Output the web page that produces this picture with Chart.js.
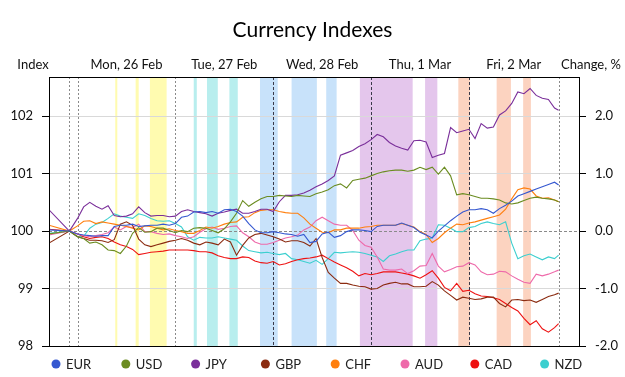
<!DOCTYPE html>
<html><head><meta charset="utf-8">
<script src="https://cdn.jsdelivr.net/npm/chart.js@4.4.1/dist/chart.umd.min.js"></script>
<style>html,body{margin:0;padding:0;background:#fff;}</style>
</head><body>
<canvas id="c" width="625" height="377"></canvas>
<script>
// ---- data (hours from Mon 26 Feb 00:00) ----
const hours = [-7, -2, 0, 1.5, 3, 4.5, 6, 7.5, 9, 10.5, 12, 13.5, 15, 16.5, 18, 19.5, 21, 22.5, 24, 25.5, 27, 28.5, 30, 31.5, 33, 34.5, 36, 37.5, 39, 40.5, 42, 43.5, 45, 46.5, 48, 49.5, 51, 52.5, 54, 55.5, 57, 58.5, 60, 61.5, 63, 64.5, 66, 67.5, 69, 70.5, 72, 73.5, 75, 76.5, 78, 79.5, 81, 82.5, 84, 85.5, 87, 88.5, 90, 91.5, 93, 94.5, 96, 97.5, 99, 100.5, 102, 103.5, 105, 106.5, 108, 109.5, 111, 112.5, 114, 115.5, 117, 118];
const EUR = [100.02, 100, 99.95, 99.93, 99.92, 99.91, 99.92, 99.92, 100.08, 100.10, 100.10, 100.12, 100.08, 100.09, 100.10, 100.10, 100.12, 100.10, 100.13, 100.24, 100.26, 100.33, 100.34, 100.32, 100.34, 100.31, 100.37, 100.38, 100.34, 100.26, 100.13, 100.02, 99.97, 99.97, 99.99, 99.97, 99.95, 99.94, 99.91, 99.94, 99.80, 99.82, 99.95, 99.98, 99.89, 99.92, 99.99, 100.02, 100.02, 100.01, 99.99, 100.08, 100.10, 100.10, 100.10, 100.14, 100.10, 100.06, 99.98, 99.93, 99.88, 100.00, 100.09, 100.18, 100.26, 100.33, 100.37, 100.37, 100.39, 100.37, 100.31, 100.39, 100.45, 100.52, 100.61, 100.65, 100.69, 100.73, 100.77, 100.81, 100.85, 100.80];
const USD = [99.95, 100, 99.90, 99.87, 99.79, 99.81, 99.76, 99.67, 99.66, 99.61, 99.74, 99.96, 100.06, 99.98, 99.99, 100.05, 100.05, 100.01, 99.97, 100.01, 99.99, 100.05, 100.06, 100.05, 100.01, 99.97, 100.04, 100.16, 100.31, 100.53, 100.43, 100.50, 100.56, 100.60, 100.60, 100.62, 100.61, 100.60, 100.62, 100.61, 100.60, 100.65, 100.68, 100.72, 100.79, 100.82, 100.75, 100.88, 100.90, 100.92, 100.96, 101.00, 101.03, 101.05, 101.06, 101.06, 101.04, 101.06, 101.11, 101.07, 101.11, 100.99, 101.11, 100.96, 100.63, 100.65, 100.63, 100.60, 100.57, 100.57, 100.56, 100.54, 100.49, 100.47, 100.49, 100.53, 100.57, 100.59, 100.57, 100.56, 100.54, 100.51];
const JPY = [100.37, 100, 100.22, 100.42, 100.50, 100.43, 100.38, 100.44, 100.27, 100.25, 100.26, 100.30, 100.42, 100.32, 100.26, 100.27, 100.27, 100.25, 100.26, 100.34, 100.37, 100.34, 100.32, 100.30, 100.26, 100.31, 100.33, 100.36, 100.38, 100.31, 100.31, 100.34, 100.38, 100.38, 100.34, 100.51, 100.62, 100.62, 100.63, 100.66, 100.71, 100.77, 100.82, 100.88, 100.96, 101.32, 101.36, 101.40, 101.47, 101.52, 101.59, 101.68, 101.64, 101.54, 101.48, 101.44, 101.41, 101.57, 101.58, 101.55, 101.28, 101.32, 101.35, 101.80, 101.71, 101.74, 101.77, 101.61, 101.87, 101.79, 101.81, 102.02, 102.09, 102.22, 102.42, 102.39, 102.48, 102.36, 102.31, 102.29, 102.14, 102.10];
const GBP = [99.79, 100, 99.90, 99.87, 99.84, 99.84, 99.83, 99.80, 99.85, 100.12, 100.16, 100.10, 99.86, 99.76, 99.73, 99.76, 99.79, 99.82, 99.84, 99.87, 99.84, 99.79, 99.76, 99.81, 99.79, 99.76, 99.86, 99.81, 99.58, 99.75, 99.88, 99.94, 99.96, 99.93, 99.90, 99.86, 99.81, 99.83, 99.83, 99.80, 99.74, 99.87, 99.54, 99.28, 99.18, 99.09, 99.09, 99.06, 99.04, 99.03, 98.99, 99.00, 99.06, 99.09, 99.11, 99.08, 99.08, 99.03, 99.03, 99.04, 99.12, 99.06, 98.96, 98.88, 98.80, 98.85, 98.83, 98.81, 98.82, 98.85, 98.85, 98.74, 98.68, 98.80, 98.81, 98.79, 98.80, 98.76, 98.81, 98.86, 98.89, 98.92];
const CHF = [100.10, 100, 100.09, 100.17, 100.18, 100.13, 100.16, 100.14, 100.12, 100.10, 100.08, 100.05, 100.02, 100.09, 100.08, 100.05, 100.02, 100.04, 100.01, 99.99, 99.96, 99.96, 100.01, 100.07, 100.05, 100.08, 100.12, 100.15, 100.16, 100.24, 100.25, 100.32, 100.36, 100.37, 100.37, 100.34, 100.32, 100.31, 100.31, 100.23, 100.12, 100.05, 99.98, 99.97, 100.02, 100.02, 100.05, 100.05, 100.05, 100.07, 100.08, 100.10, 100.10, 100.10, 100.10, 100.13, 100.10, 100.07, 99.99, 99.94, 99.80, 99.87, 99.97, 100.05, 100.12, 100.11, 100.14, 100.16, 100.19, 100.22, 100.25, 100.28, 100.38, 100.56, 100.72, 100.75, 100.73, 100.61, 100.57, 100.58, 100.54, 100.51];
const AUD = [99.93, 100, 99.95, 99.92, 99.90, 99.92, 99.94, 99.97, 100.07, 100.02, 100.08, 100.06, 100.12, 99.99, 99.99, 99.96, 99.94, 99.95, 99.92, 99.90, 99.87, 99.90, 99.98, 100.04, 100.07, 100.03, 100.05, 100.08, 100.09, 99.97, 99.90, 99.81, 99.77, 99.77, 99.80, 99.84, 99.88, 99.90, 99.93, 100.02, 100.07, 100.18, 100.24, 100.18, 100.12, 100.10, 100.10, 100.01, 99.84, 99.75, 99.72, 99.55, 99.34, 99.32, 99.32, 99.34, 99.26, 99.31, 99.39, 99.40, 99.61, 99.39, 99.29, 99.33, 99.38, 99.39, 99.45, 99.41, 99.29, 99.24, 99.25, 99.30, 99.29, 99.22, 99.16, 99.11, 99.09, 99.25, 99.22, 99.25, 99.29, 99.32];
const CAD = [100.03, 100, 99.95, 99.90, 99.87, 99.89, 99.90, 99.87, 99.81, 99.76, 99.73, 99.68, 99.59, 99.61, 99.63, 99.64, 99.65, 99.67, 99.67, 99.67, 99.67, 99.66, 99.64, 99.64, 99.62, 99.57, 99.54, 99.52, 99.52, 99.55, 99.54, 99.48, 99.45, 99.44, 99.47, 99.41, 99.43, 99.47, 99.50, 99.52, 99.53, 99.55, 99.58, 99.52, 99.46, 99.41, 99.36, 99.30, 99.22, 99.26, 99.24, 99.26, 99.29, 99.29, 99.29, 99.27, 99.25, 99.22, 99.18, 99.24, 99.31, 99.18, 99.02, 98.96, 99.09, 98.95, 98.97, 98.91, 98.87, 98.86, 98.84, 98.81, 98.74, 98.67, 98.61, 98.48, 98.37, 98.44, 98.30, 98.24, 98.32, 98.39];
const NZD = [99.96, 100, 99.90, 99.91, 100.05, 100.12, 100.15, 100.22, 100.30, 100.26, 100.24, 100.22, 100.30, 100.27, 100.22, 100.18, 100.17, 100.18, 100.13, 100.07, 99.90, 99.84, 99.89, 99.88, 99.88, 99.90, 99.88, 99.86, 99.84, 99.74, 99.66, 99.64, 99.62, 99.63, 99.61, 99.59, 99.61, 99.52, 99.50, 99.47, 99.44, 99.49, 99.42, 99.52, 99.63, 99.62, 99.63, 99.64, 99.63, 99.61, 99.58, 99.55, 99.47, 99.57, 99.60, 99.64, 99.67, 99.67, 99.83, 99.86, 99.88, 100.11, 100.10, 100.05, 99.99, 99.99, 100.06, 100.08, 100.13, 100.16, 100.13, 100.11, 100.16, 99.79, 99.52, 99.57, 99.60, 99.55, 99.50, 99.55, 99.52, 99.58];

const seriesNames = ['EUR', 'USD', 'JPY', 'GBP', 'CHF', 'AUD', 'CAD', 'NZD'];
const seriesValues = [EUR, USD, JPY, GBP, CHF, AUD, CAD, NZD];

const dayCenters = [12, 36, 60, 84, 107];
const dayLabels = ['Mon, 26 Feb', 'Tue, 27 Feb', 'Wed, 28 Feb', 'Thu, 1 Mar', 'Fri, 2 Mar'];
const leftTicks = [98, 99, 100, 101, 102];
const rightTicks = [-2, -1, 0, 1, 2];
const baseIndex = 100;

// event windows (hours) and the day each belongs to
const bandStart = [9.25, 14.25, 17.75, 28.5, 31.75, 37.25, 44.75, 52.5, 61, 69.25, 85.25, 93.4, 102.8, 109.3];
const bandEnd   = [9.75, 15.0, 21.85, 29.25, 34.4, 39.3, 49.1, 58.7, 63.55, 82.2, 88.25, 96.25, 106.3, 111.2];
const bandDay   = [0, 0, 0, 1, 1, 1, 2, 2, 2, 3, 3, 4, 4, 4];
const markerHours = [-2, 0, 24, 48, 72, 96, 118];

// ---- styles ----
const FONT = 'Lato, "Open Sans", sans-serif';
const lineColors = ['#3558D0', '#6B8C21', '#7A2F9A', '#8B2B10', '#FF7F0E', '#EE6AAA', '#EE1111', '#3CCFCF'];
const dayBandColors = ['#FFFBB0', '#B8EEEE', '#C8E2FA', '#E4C6EC', '#FCD3C0'];
const darkMarkers = [48, 72, 96];
const X_MIN = -7, X_MAX = 123;

const decorPlugin = {
  id: 'decor',
  beforeDraw(chart) {
    const {ctx, chartArea: a, scales: {x}} = chart;
    ctx.save();
    bandStart.forEach((s, i) => {
      const x1 = x.getPixelForValue(s), x2 = x.getPixelForValue(bandEnd[i]);
      ctx.fillStyle = dayBandColors[bandDay[i]];
      ctx.fillRect(x1, a.top, x2 - x1, a.bottom - a.top);
    });
    ctx.restore();
  },
  beforeDatasetsDraw(chart) {
    const {ctx, chartArea: a, scales: {x, y}} = chart;
    ctx.save();
    ctx.lineWidth = 1;
    markerHours.forEach(h => {
      const px = Math.round(x.getPixelForValue(h)) + 0.5;
      const dark = darkMarkers.includes(h);
      ctx.strokeStyle = dark ? '#3a3a4a' : '#8a8a8a';
      ctx.setLineDash(dark ? [3, 2] : [2, 2]);
      ctx.beginPath(); ctx.moveTo(px, a.top); ctx.lineTo(px, a.bottom); ctx.stroke();
    });
    const py = Math.round(y.getPixelForValue(baseIndex)) + 0.5;
    ctx.strokeStyle = '#8a8a8a';
    ctx.setLineDash([3, 2]);
    ctx.beginPath(); ctx.moveTo(a.left, py); ctx.lineTo(a.right, py); ctx.stroke();
    ctx.restore();
  },
  afterDraw(chart) {
    const {ctx, chartArea: a} = chart;
    ctx.save();
    ctx.strokeStyle = '#000'; ctx.lineWidth = 1; ctx.setLineDash([]);
    ctx.strokeRect(Math.round(a.left) + 0.5, Math.round(a.top) + 0.5, Math.round(a.right - a.left), Math.round(a.bottom - a.top));
    ctx.fillStyle = '#111';
    ctx.font = '13px ' + FONT;
    ctx.textBaseline = 'middle'; ctx.textAlign = 'center';
    ctx.fillText('Index', a.left - 16, a.top - 12);
    ctx.fillText('Change, %', a.right + 12, a.top - 12);
    // legend
    const startX = 56, step = 69.8, ly = 364;
    chart.data.datasets.forEach((ds, i) => {
      const cx = startX + i * step;
      ctx.fillStyle = ds.borderColor;
      ctx.beginPath(); ctx.arc(cx, ly, 4.5, 0, Math.PI * 2); ctx.fill();
      ctx.fillStyle = '#222';
      ctx.textAlign = 'left';
      ctx.fillText(ds.label, cx + 10, ly + 0.5);
    });
    ctx.restore();
  }
};

const datasets = seriesNames.map((name, i) => ({
  label: name,
  data: hours.map((h, j) => ({x: h, y: seriesValues[i][j]})),
  borderColor: lineColors[i],
  backgroundColor: lineColors[i],
  borderWidth: 1.1,
  pointRadius: 0,
  tension: 0,
  yAxisID: 'y'
}));

new Chart(document.getElementById('c'), {
  type: 'line',
  data: {datasets},
  plugins: [decorPlugin],
  options: {
    responsive: false,
    animation: false,
    layout: {padding: {left: 0, right: 0, top: 0, bottom: 31}},
    plugins: {
      legend: {display: false},
      tooltip: {enabled: false},
      title: {
        display: true, text: 'Currency Indexes', color: '#000',
        font: {family: FONT, size: 21, weight: 'normal'},
        padding: {top: 18, bottom: 6.8}
      }
    },
    scales: {
      x: {
        type: 'linear', position: 'top', min: X_MIN, max: X_MAX,
        grid: {display: false, drawTicks: false},
        border: {display: false},
        afterBuildTicks: s => { s.ticks = dayCenters.map(v => ({value: v})); },
        afterFit: s => { s.height = 27; },
        ticks: {
          autoSkip: false, maxRotation: 0, padding: 4, color: '#111',
          font: {family: FONT, size: 13},
          callback: (v, i) => dayLabels[i]
        }
      },
      y: {
        type: 'linear', position: 'left', min: 98, max: 102.68,
        afterBuildTicks: s => { s.ticks = leftTicks.map(v => ({value: v})); },
        afterFit: s => { s.width = 49; },
        grid: {
          color: c => (c.tick && c.tick.value === baseIndex) ? 'rgba(0,0,0,0)' : '#d9d9d9',
          tickColor: '#000', tickLength: 7, drawTicks: true
        },
        border: {display: true, color: '#000'},
        ticks: {padding: 9, color: '#111', font: {family: FONT, size: 13}, callback: v => String(v)}
      },
      y2: {
        type: 'linear', position: 'right', min: -2, max: 2.68,
        afterBuildTicks: s => { s.ticks = rightTicks.map(v => ({value: v})); },
        afterFit: s => { s.width = 46; },
        grid: {drawOnChartArea: false, tickColor: '#000', tickLength: 7, drawTicks: true},
        border: {display: true, color: '#000'},
        ticks: {padding: 9, color: '#111', font: {family: FONT, size: 13}, callback: v => v.toFixed(1)}
      }
    }
  }
});
</script>
</body></html>
